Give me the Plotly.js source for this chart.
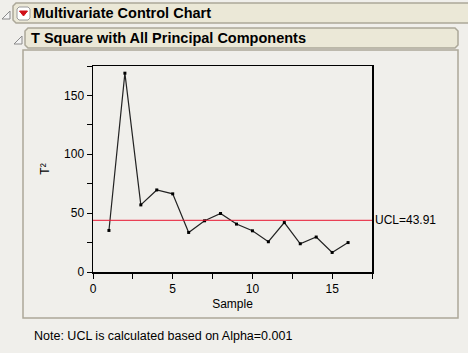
<!DOCTYPE html>
<html><head><meta charset="utf-8">
<script src="https://cdn.plot.ly/plotly-3.0.1.min.js"></script>
<style>html,body{margin:0;padding:0;background:#f0efeb;}#c{width:468px;height:353px;}</style>
</head><body><div id="c"></div>
<script>
const samples = [1,2,3,4,5,6,7,8,9,10,11,12,13,14,15,16];
const tsq = [35.3,168.9,57,69.7,66.4,33.6,43.5,49.7,40.7,35,25.7,42,24,29.7,16.6,25];
const ucl = 43.91;
const uclLabel = 'UCL=43.91';

const W=468,H=353,L=93,R=96,T=66,B=81;
const pw=W-L-R, ph=H-T-B;
const px = x => (x-L)/pw;
const py = y => (H-B-y)/ph;
function rrect(x0,y0,x1,y1,r){
  const X=v=>px(v), Y=v=>py(v);
  return `M ${X(x0+r)} ${Y(y0)} L ${X(x1-r)} ${Y(y0)} L ${X(x1)} ${Y(y0+r)} L ${X(x1)} ${Y(y1-r)} L ${X(x1-r)} ${Y(y1)} L ${X(x0+r)} ${Y(y1)} L ${X(x0)} ${Y(y1-r)} L ${X(x0)} ${Y(y0+r)} Z`;
}
const hdrFill='#ebe8d7', hdrLine='#aca899';
const shapes=[
  {type:'rect',xref:'paper',yref:'paper',x0:px(23),x1:px(458),y0:py(50),y1:py(318),line:{color:hdrLine,width:1.5},fillcolor:'#f0efeb',layer:'below'},
  {type:'path',xref:'paper',yref:'paper',path:rrect(13,3,475,23,3),line:{color:hdrLine,width:1.5},fillcolor:hdrFill,layer:'below'},
  {type:'path',xref:'paper',yref:'paper',path:rrect(25,28,458,48,3),line:{color:hdrLine,width:1.5},fillcolor:hdrFill,layer:'below'},
  {type:'path',xref:'paper',yref:'paper',path:`M ${px(10)} ${py(11)} L ${px(10)} ${py(19)} L ${px(2)} ${py(19)} Z`,line:{color:'#8a8a8a',width:1},fillcolor:'#f4f4f4'},
  {type:'path',xref:'paper',yref:'paper',path:`M ${px(22)} ${py(36)} L ${px(22)} ${py(44)} L ${px(14)} ${py(44)} Z`,line:{color:'#8a8a8a',width:1},fillcolor:'#f4f4f4'},
  {type:'path',xref:'paper',yref:'paper',path:rrect(17,7,30,20,2),line:{color:'#9a9a9a',width:1},fillcolor:'#ffffff'},
  {type:'path',xref:'paper',yref:'paper',path:`M ${px(19.5)} ${py(11)} L ${px(27.5)} ${py(11)} L ${px(23.5)} ${py(16)} Z`,line:{color:'#d0101a',width:1},fillcolor:'#d0101a'},
  {type:'line',xref:'paper',yref:'y',x0:0,x1:1,y0:ucl,y1:ucl,line:{color:'#e8132f',width:1}}
];
const annotations=[
  {xref:'paper',yref:'paper',x:px(31),y:py(13),xanchor:'left',yanchor:'middle',showarrow:false,text:'<b>Multivariate Control Chart</b>',font:{family:'Liberation Sans, Arial',size:14.5,color:'#000'}},
  {xref:'paper',yref:'paper',x:px(29),y:py(38),xanchor:'left',yanchor:'middle',showarrow:false,text:'<b>T Square with All Principal Components</b>',font:{family:'Liberation Sans, Arial',size:14.5,color:'#000'}},
  {xref:'paper',yref:'y',x:1,y:ucl,xanchor:'left',yanchor:'middle',xshift:1,showarrow:false,text:uclLabel,font:{family:'Liberation Sans, Arial',size:12,color:'#000'}},
  {xref:'paper',yref:'paper',x:px(32),y:py(336),xanchor:'left',yanchor:'middle',showarrow:false,text:'Note: UCL is calculated based on Alpha=0.001',font:{family:'Liberation Sans, Arial',size:12.5,color:'#000'}}
];
Plotly.newPlot('c',[{
  x:samples,y:tsq,type:'scatter',mode:'lines+markers',
  line:{color:'#222222',width:1.2},marker:{color:'#000',size:3,symbol:'square'},
  cliponaxis:false
}],{
  width:W,height:H,margin:{l:L,r:R,t:T,b:B},
  paper_bgcolor:'#f0efeb',plot_bgcolor:'#ffffff',showlegend:false,
  font:{family:'Liberation Sans, Arial',size:12,color:'#000'},
  xaxis:{range:[0,17.5],tickvals:[0,5,10,15],ticks:'outside',ticklen:5,tickwidth:1,tickcolor:'#000',
    minor:{tickvals:[2.5,7.5,12.5,17.5],ticks:'outside',ticklen:5,tickcolor:'#000'},
    showgrid:false,zeroline:false,showline:true,linecolor:'#000',linewidth:1.5,mirror:true,
    title:{text:'Sample',standoff:4,font:{size:12}},tickfont:{size:12}},
  yaxis:{range:[0,175],tickvals:[0,50,100,150],ticks:'outside',ticklen:5,tickwidth:1,tickcolor:'#000',
    minor:{tickvals:[25,75,125,175],ticks:'outside',ticklen:5,tickcolor:'#000'},
    showgrid:false,zeroline:false,showline:true,linecolor:'#000',linewidth:1.5,mirror:true,
    title:{text:'T²',standoff:12,font:{size:12}},tickfont:{size:12}},
  shapes:shapes,annotations:annotations
},{staticPlot:true});
</script></body></html>
